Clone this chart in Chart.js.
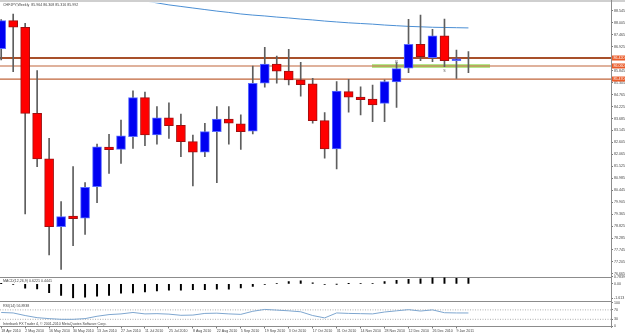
<!DOCTYPE html>
<html>
<head>
<meta charset="utf-8">
<title>CHFJPY Weekly</title>
<script src="https://cdn.jsdelivr.net/npm/chart.js@4.4.1/dist/chart.umd.min.js"></script>
<style>
  html, body { margin: 0; padding: 0; background: #fff; }
  #wrap { position: relative; width: 625px; height: 334px; overflow: hidden; }
  canvas { position: absolute; left: 0; }
  .rule { position: absolute; background: #8c8c8c; }
</style>
</head>
<body>
<div id="wrap">
  <div class="rule" style="left:0;top:0;width:625px;height:2px;background:#cfcfcf"></div>
  <div class="rule" style="left:0;top:277px;width:611px;height:1px"></div>
  <div class="rule" style="left:0;top:301px;width:611px;height:1px"></div>
  <div class="rule" style="left:611px;top:0;width:1px;height:328px"></div>
  <canvas id="main" width="625" height="280" style="top:0"></canvas>
  <canvas id="macd" width="625" height="27" style="top:274px"></canvas>
  <canvas id="rsi" width="625" height="34" style="top:300px"></canvas>
</div>
<script>
// header texts
const chartTitle = 'CHFJPY,Weekly  85.964 86.308 85.316 85.992';
const macdTitle = 'MACD(12,26,9) 0.6221 0.4441';
const rsiTitle = 'RSI(14) 56.8938';
const footerText = 'Interbank FX Trader 4, \u00a9 2001-2010 MetaQuotes Software Corp.';

// weekly candles, one per week from 18 Apr 2010
const opens  = [86.84, 88.11, 87.81, 83.92, 81.86, 78.80, 79.28, 79.18, 80.61, 82.40,
                82.29, 82.86, 84.63, 82.94, 83.72, 83.38, 82.64, 82.16, 83.09, 83.66,
                83.45, 83.11, 85.28, 86.15, 85.83, 85.43, 85.25, 83.59, 82.31, 84.90,
                84.65, 84.56, 84.37, 85.34, 85.96, 87.04, 86.43, 87.42, 86.30, 86.33];
const highs  = [88.16, 88.41, 87.99, 85.85, 82.79, 79.93, 81.51, 80.79, 82.53, 82.97,
                83.62, 84.94, 84.88, 84.22, 84.40, 83.89, 82.94, 83.47, 84.22, 84.22,
                83.85, 86.06, 86.90, 86.51, 86.81, 86.23, 85.50, 83.95, 85.35, 85.46,
                85.12, 85.20, 85.43, 86.21, 88.17, 88.36, 87.72, 88.18, 86.78, 86.71];
const lows   = [86.33, 85.80, 79.37, 81.51, 77.52, 76.87, 77.94, 78.45, 79.88, 81.21,
                81.66, 82.34, 82.46, 82.53, 82.79, 81.96, 80.64, 81.96, 80.79, 82.53,
                82.29, 82.99, 85.10, 85.28, 85.20, 84.70, 83.47, 81.89, 81.41, 83.97,
                83.85, 83.54, 83.54, 84.19, 85.76, 86.30, 86.25, 86.03, 85.50, 85.76];
const closes = [88.11, 87.81, 83.92, 81.86, 78.80, 79.25, 79.16, 80.58, 82.41, 82.28,
                82.90, 84.63, 82.94, 83.72, 83.36, 82.64, 82.16, 83.09, 83.66, 83.47,
                83.09, 85.28, 86.15, 85.83, 85.43, 85.21, 83.59, 82.31, 84.93, 84.65,
                84.54, 84.30, 85.35, 85.94, 87.04, 86.48, 87.42, 86.30, 86.38, 86.33];

// moving average (null where it is above the window)
const maValues = [null, null, null, null, null, null, null, null, null, null,
                  89.18, 89.09, 89.00, 88.91, 88.82, 88.75, 88.68, 88.61, 88.54, 88.48,
                  88.41, 88.36, 88.32, 88.27, 88.23, 88.18, 88.14, 88.09, 88.05, 88.01,
                  87.98, 87.95, 87.91, 87.88, 87.85, 87.83, 87.81, 87.80, 87.79, 87.78];

// horizontal levels and the green zone
const levels = [86.42, 86.06, 85.47];
const greenLevel = 86.06;
const greenFrom = 30.95;
const greenTo = 40.8;

// R / S marks
const signalIdx = [33, 37];
const signalText = ['R', 'S'];

// indicators
const macdHist = [0.02, -0.05, -0.49, -0.56, -0.98, -1.31, -1.613, -1.5, -1.38, -1.31,
                  -1.05, -1.02, -0.92, -0.79, -0.72, -0.72, -0.66, -0.66, -0.59, -0.59,
                  -0.46, -0.3, -0.05, 0.03, 0.26, 0.33, 0.1, -0.07, -0.03, 0.02,
                  0.03, 0.05, 0.26, 0.39, 0.49, 0.56, 0.66, 0.66, 0.62, 0.6221];
const rsiValues = [59, 57, 46, 37, 33, 30, 30, 33, 43, 50,
                   53, 59, 53, 54, 52, 47, 48, 55, 56, 53,
                   51, 64, 72, 69, 66, 62, 46, 36, 57, 55,
                   54, 53, 61, 66, 71, 65, 70, 58, 57, 56.89];
const rsiLevels = [70, 30];

// axis labels
const priceTicks = ['88.545', '88.005', '87.465', '86.925', '86.385', '85.845', '85.305', '84.765',
                    '84.225', '83.685', '83.145', '82.605', '82.065', '81.525', '80.985', '80.445',
                    '79.905', '79.365', '78.825', '78.285', '77.745', '77.205', '76.665'];
const macdTicks = ['-1.613', '0.00', '0.7839'];
const rsiTicks = ['0', '30', '70', '100'];
const dateLabels = ['18 Apr 2010', '2 May 2010', '16 May 2010', '30 May 2010', '13 Jun 2010',
                    '27 Jun 2010', '11 Jul 2010', '25 Jul 2010', '8 Aug 2010', '22 Aug 2010',
                    '5 Sep 2010', '19 Sep 2010', '3 Oct 2010', '17 Oct 2010', '31 Oct 2010',
                    '14 Nov 2010', '28 Nov 2010', '12 Dec 2010', '26 Dec 2010', '9 Jan 2011'];
const dateTickIdx = [0, 2, 4, 6, 8, 10, 12, 14, 16, 18, 20, 22, 24, 26, 28, 30, 32, 34, 36, 38];

const weekIdx = opens.map((_, i) => i);
const X_MIN = -0.1, X_MAX = 50.9;
const fontSmall = { family: 'Liberation Sans', size: 3.6, lineHeight: 1 };
const textColor = '#444';

// small texts in the corner of each panel
Chart.register({
    id: 'panelText',
    afterDraw(chart, args, opts) {
        if (!opts.items) return;
        const { ctx, chartArea: a } = chart;
        ctx.save();
        ctx.font = '3.6px "Liberation Sans"';
        ctx.fillStyle = textColor;
        ctx.textAlign = 'left';
        opts.items.forEach(it => {
            ctx.textBaseline = it.bottom ? 'bottom' : 'top';
            ctx.fillText(it.text, a.left + 3, it.bottom ? a.bottom - 1 : a.top + it.dy);
        });
        ctx.restore();
    }
});

const rightAxis = (min, max, labels) => ({
    position: 'right',
    min, max,
    afterFit: s => { s.width = 14; },
    afterBuildTicks: s => { s.ticks = labels.map(v => ({ value: parseFloat(v) })); },
    ticks: { font: fontSmall, color: textColor, padding: 1, autoSkip: false,
             callback: (v, k) => labels[k] },
    grid: { drawOnChartArea: false, tickLength: 2, color: '#777' },
    border: { display: true, color: '#8c8c8c' }
});

const hiddenX = { type: 'linear', min: X_MIN, max: X_MAX, display: false, offset: false };

// level tags on the price axis and R/S marks
const marks = {
    id: 'marks',
    afterDraw(chart) {
        const { ctx, chartArea: a, scales: { x, y } } = chart;
        ctx.save();
        ctx.font = '3.6px "Liberation Sans"';
        ctx.textBaseline = 'middle';
        ctx.textAlign = 'left';
        levels.forEach(v => {
            const py = y.getPixelForValue(v);
            ctx.fillStyle = '#ea5a28';
            ctx.fillRect(a.right + 1, py - 2.5, 14, 5);
            ctx.fillStyle = '#fff';
            ctx.fillText(v.toFixed(3), a.right + 2.5, py);
        });
        ctx.fillStyle = '#555';
        ctx.textAlign = 'center';
        signalIdx.forEach((i, k) => {
            const py = signalText[k] === 'R'
                ? y.getPixelForValue(highs[i]) - 1
                : y.getPixelForValue(lows[i]) + 4;
            ctx.fillText(signalText[k], x.getPixelForValue(i), py);
        });
        ctx.restore();
    }
};

const isUp = i => closes[i] >= opens[i];

new Chart(document.getElementById('main'), {
    type: 'bar',
    data: {
        datasets: [
            {
                type: 'bar',
                data: weekIdx.map(i => ({ x: i, y: [opens[i], closes[i]] })),
                grouped: false,
                barThickness: 9,
                borderWidth: 1,
                borderSkipped: false,
                backgroundColor: c => isUp(c.dataIndex) ? '#0000f2' : '#ff0000',
                borderColor: c => isUp(c.dataIndex) ? '#5a6cff' : '#a01010',
                order: 0
            },
            {
                type: 'bar',
                data: weekIdx.map(i => ({ x: i, y: [lows[i], highs[i]] })),
                grouped: false,
                barThickness: 1,
                backgroundColor: '#5e5e5e',
                order: 1
            },
            {
                type: 'line',
                data: weekIdx.map(i => ({ x: i, y: maValues[i] })),
                borderColor: '#4b8fd4',
                borderWidth: 1,
                pointRadius: 0,
                order: 2
            },
            ...levels.map((v, k) => ({
                type: 'line',
                data: [{ x: X_MIN, y: v }, { x: X_MAX, y: v }],
                borderColor: k === 0 ? '#a8502a' : '#c0643a',
                borderWidth: k === 0 ? 2 : 1.2,
                pointRadius: 0,
                order: 3
            })),
            {
                type: 'line',
                data: [{ x: greenFrom, y: greenLevel }, { x: greenTo, y: greenLevel }],
                borderColor: '#b4e88a',
                borderWidth: 4,
                pointRadius: 0,
                order: 4
            }
        ]
    },
    options: {
        responsive: false,
        animation: false,
        events: [],
        plugins: {
            legend: { display: false },
            tooltip: { enabled: false },
            panelText: { items: [{ text: chartTitle, dy: 0.5 }] }
        },
        scales: {
            x: hiddenX,
            y: rightAxis(76.515, 88.915, priceTicks)
        }
    },
    plugins: [marks]
});

new Chart(document.getElementById('macd'), {
    type: 'bar',
    data: {
        datasets: [{
            data: weekIdx.map(i => ({ x: i, y: macdHist[i] })),
            backgroundColor: '#000',
            barThickness: 1.3
        }]
    },
    options: {
        responsive: false,
        animation: false,
        events: [],
        plugins: {
            legend: { display: false },
            tooltip: { enabled: false },
            panelText: { items: [{ text: macdTitle, dy: 2.5 }] }
        },
        scales: {
            x: hiddenX,
            y: rightAxis(-1.613, 0.7839, macdTicks)
        }
    }
});

new Chart(document.getElementById('rsi'), {
    type: 'line',
    data: {
        datasets: [
            {
                data: weekIdx.map(i => ({ x: i, y: rsiValues[i] })),
                borderColor: '#7ea6cf',
                borderWidth: 1,
                pointRadius: 0
            },
            ...rsiLevels.map(v => ({
                data: [{ x: X_MIN, y: v }, { x: X_MAX, y: v }],
                borderColor: '#9a9a9a',
                borderWidth: 0.8,
                borderDash: [1, 1.5],
                pointRadius: 0
            }))
        ]
    },
    options: {
        responsive: false,
        animation: false,
        events: [],
        plugins: {
            legend: { display: false },
            tooltip: { enabled: false },
            panelText: { items: [{ text: rsiTitle, dy: 1.5 }, { text: footerText, bottom: true }] }
        },
        scales: {
            x: {
                type: 'linear', min: X_MIN, max: X_MAX, offset: false,
                afterBuildTicks: s => { s.ticks = dateTickIdx.map(v => ({ value: v })); },
                ticks: {
                    font: fontSmall, color: textColor, padding: 1,
                    autoSkip: false, maxRotation: 0, align: 'start',
                    callback: (v, k) => dateLabels[k]
                },
                grid: { drawOnChartArea: false, tickLength: 2, color: '#777' },
                border: { display: true, color: '#8c8c8c' }
            },
            y: rightAxis(0, 100, rsiTicks)
        }
    }
});
</script>
</body>
</html>
